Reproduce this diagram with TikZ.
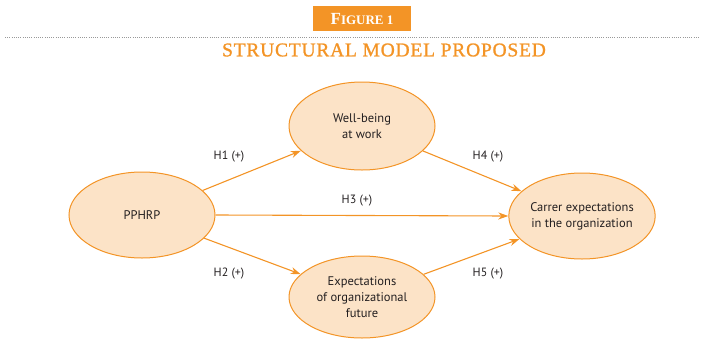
\documentclass[tikz,border=0pt]{standalone}
\usepackage{fontspec}
\setmainfont{PT Sans}
\newfontfamily\titlefont[LetterSpace=4,FakeBold=1.2]{Liberation Serif}
\newfontfamily\figfont{Liberation Serif}
\usetikzlibrary{arrows.meta,shapes.geometric}
\definecolor{orng}{HTML}{F39426}
\definecolor{fillc}{HTML}{FCE3C7}
\definecolor{txt}{HTML}{231F20}
\tikzset{
  constr/.style={ellipse, draw=orng, fill=fillc, line width=1pt, minimum width=146pt, minimum height=86pt, inner sep=0pt, align=center, text=txt, font=\fontsize{12.5}{16}\selectfont},
  path/.style={draw=orng, line width=1.1pt, -{Stealth[length=10pt,width=7pt]}},
  hlabel/.style={text=txt, font=\fontsize{12}{14}\selectfont, inner sep=0pt}
}
\begin{document}
\begin{tikzpicture}[x=1pt,y=-1pt]
\useasboundingbox (0,0) rectangle (707,338);
\node[fill=orng, minimum width=98pt, minimum height=25pt, inner sep=0pt, text=white, font=\figfont\fontsize{17}{20}\selectfont\bfseries] (figbox) at (362,18.5) {F{\fontsize{13}{16}\selectfont IGURE 1}};
\draw[draw=gray!80, line width=1pt, dash pattern=on 0.8pt off 1.4pt] (5,37) coordinate (dl) -- (700,37) coordinate (dr);
\node[text=orng, font=\titlefont\fontsize{19.5}{24}\selectfont, inner sep=0pt] (title) at (384,50) {STRUCTURAL MODEL PROPOSED};

\node[constr] (pp) at (142,215) {PPHRP};
\node[constr, minimum height=88pt] (wb) at (362,126) {Well-being\\at work};
\node[constr, minimum height=82pt] (ex) at (362,297) {Expectations\\of organizational\\future};
\node[constr] (ce) at (582,216) {Carrer expectations\\in the organization};

\draw[path] (pp) -- (wb);
\draw[path] (pp) -- (ex);
\draw[path] (pp.east) -- (ce.west);
\draw[path] (wb) -- (ce);
\draw[path] (ex) -- (ce);

\node[hlabel] (h1) at (229,157) {H1 (+)};
\node[hlabel] (h2) at (229,274) {H2 (+)};
\node[hlabel] (h3) at (357,201) {H3 (+)};
\node[hlabel] (h4) at (488,157) {H4 (+)};
\node[hlabel] (h5) at (488,274) {H5 (+)};
\end{tikzpicture}
\end{document}
